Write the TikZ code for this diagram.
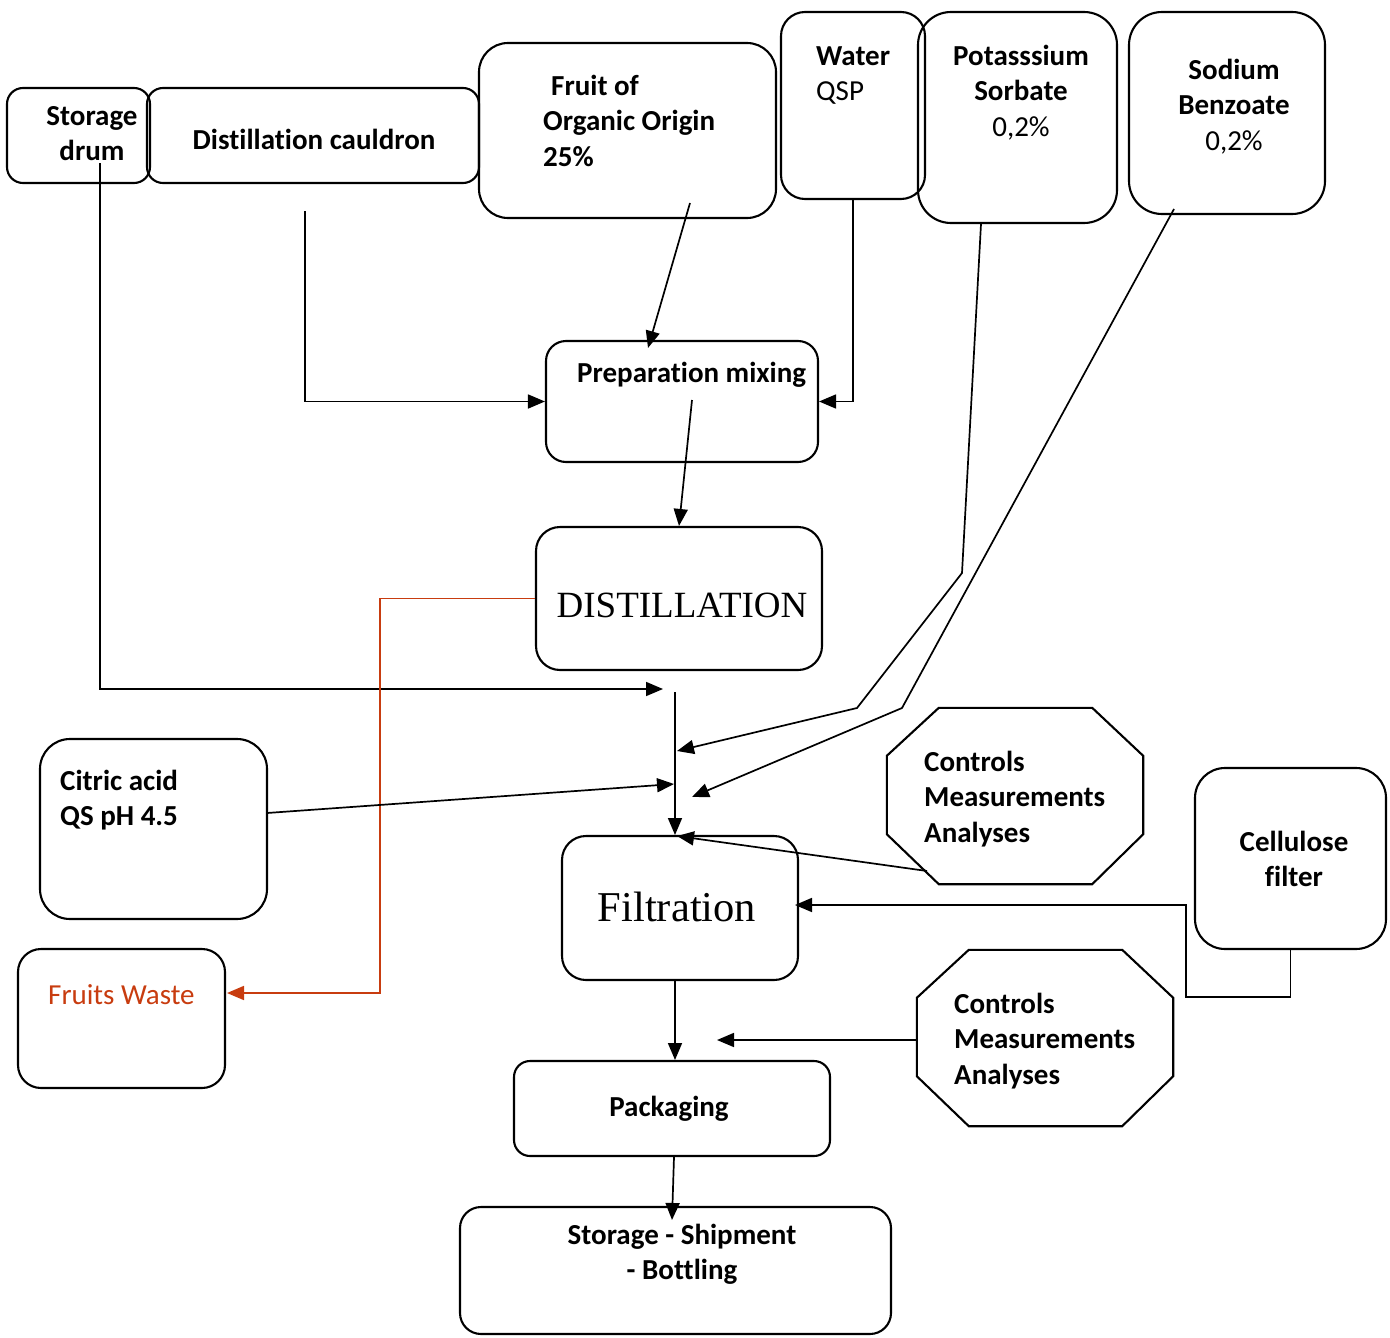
\documentclass[tikz,border=0pt]{standalone}
\usepackage{fontspec}
\setmainfont{Carlito}[Ligatures={NoCommon},Contextuals={NoAlternate}]
\newfontfamily\timesf{Liberation Serif}
\usetikzlibrary{arrows.meta,calc}
\definecolor{wastered}{RGB}{200,60,15}
\tikzset{
  box/.style={draw, line width=2.1, inner sep=0, rectangle},
  arr/.style={line width=1.7, -{Triangle[length=17pt,width=14pt]}},
  txt/.style={inner sep=0, font=\fontsize{29}{35.5}\selectfont\bfseries},
  rtxt/.style={inner sep=0, font=\fontsize{29}{35.5}\selectfont},
}
\begin{document}
\begin{tikzpicture}[x=1pt,y=-1pt]
\useasboundingbox (0,0) rectangle (1390,1338);
% boxes
\node[box, minimum width=143, minimum height=95, rounded corners=16] (drum) at (78.5,135.5) {};
\node[box, minimum width=332, minimum height=95, rounded corners=16] (cauldron) at (313,135.5) {};
\node[box, minimum width=297, minimum height=175, rounded corners=29] (fruit) at (627.5,130.5) {};
\node[box, minimum width=144, minimum height=187, rounded corners=24] (water) at (853,105.5) {};
\node[box, minimum width=199, minimum height=211, rounded corners=33] (potassium) at (1017.5,117.5) {};
\node[box, minimum width=196, minimum height=202, rounded corners=33] (sodium) at (1227,113) {};
\node[box, minimum width=272, minimum height=121, rounded corners=20] (prep) at (682,401.5) {};
\node[box, minimum width=286, minimum height=143, rounded corners=24] (distil) at (679,598.5) {};
\node[box, minimum width=227, minimum height=180, rounded corners=30] (citric) at (153.5,829) {};
\node[box, minimum width=207, minimum height=139, rounded corners=23] (waste) at (121.5,1018.5) {};
\node[box, minimum width=236, minimum height=144, rounded corners=24] (filt) at (680,908) {};
\node[box, minimum width=191, minimum height=181, rounded corners=30] (cell) at (1290.5,858.5) {};
\node[box, minimum width=316, minimum height=95, rounded corners=16] (pack) at (672,1108.5) {};
\node[box, minimum width=431, minimum height=127, rounded corners=21] (ship) at (675.5,1270.5) {};
% octagons
\node[inner sep=0, minimum width=256, minimum height=176] (ctrl1) at (1015,796) {};
\node[inner sep=0, minimum width=256, minimum height=176] (ctrl2) at (1045,1038) {};
\foreach \o in {ctrl1,ctrl2}{
  \draw[line width=2.1]
    ($(\o.north west)+(52,0)$) -- ($(\o.north east)+(-51,0)$) -- ($(\o.north east)+(0,48)$)
    -- ($(\o.south east)+(0,-50)$) -- ($(\o.south east)+(-51,0)$) -- ($(\o.south west)+(52,0)$)
    -- ($(\o.south west)+(0,-50)$) -- ($(\o.north west)+(0,48)$) -- cycle;
}
% texts
\node[txt, anchor=north, align=center] (tdrum) at (92,100) {\strut Storage\\\strut drum};
\node[txt, anchor=north] (tcauldron) at (314,124) {\strut Distillation cauldron};
\node[txt, anchor=north west, align=left] (tfruit) at (543,70) {\strut\hspace{8pt}Fruit of\\\strut Organic Origin\\\strut 25\%};
\node[rtxt, anchor=north west, align=left] (twater) at (816,40) {\strut\textbf{Water}\\\strut QSP};
\node[rtxt, anchor=north, align=center] (tpot) at (1021,40) {\strut\textbf{Potasssium}\\\strut\textbf{Sorbate}\\\strut 0,2\%};
\node[rtxt, anchor=north, align=center] (tsod) at (1234,54) {\strut\textbf{Sodium}\\\strut\textbf{Benzoate}\\\strut 0,2\%};
\node[txt, anchor=north west] (tprep) at (577,357) {\strut Preparation mixing};
\node[inner sep=0, anchor=base, font=\timesf\fontsize{37}{44}\selectfont] (tdistil) at (682,617) {DISTILLATION};
\node[txt, anchor=north west, align=left] (tcitric) at (60,765) {\strut Citric acid\\\strut QS pH 4.5};
\node[rtxt, anchor=base west, text=wastered] (twaste) at (48,1004) {Fruits Waste};
\node[inner sep=0, anchor=base, font=\timesf\fontsize{42.5}{50}\selectfont] (tfilt) at (677,921) {Filtration};
\node[txt, anchor=north west, align=left] (tctrl1) at (924,746) {\strut Controls\\\strut Measurements\\\strut Analyses};
\node[txt, anchor=north, align=center] (tcell) at (1294,826) {\strut Cellulose\\\strut filter};
\node[txt, anchor=north west, align=left] (tctrl2) at (954,988) {\strut Controls\\\strut Measurements\\\strut Analyses};
\node[txt, anchor=base] (tpack) at (669,1116) {Packaging};
\node[txt, anchor=north, align=center] (tship) at (682,1219) {\strut Storage - Shipment\\\strut - Bottling};
% connector coordinates
\coordinate (drumout) at (100,163);
\coordinate (j1) at (663,689);
\coordinate (caulout) at (305,211);
\coordinate (fruitout) at (690,203);
\coordinate (prepin) at (648,348);
\coordinate (prepout) at (692,400);
\coordinate (jtop) at (675,692);
\coordinate (filtin) at (675,835);
\coordinate (potout) at (981,224);
\coordinate (potb1) at (962,573);
\coordinate (potb2) at (857,708);
\coordinate (potin) at (677,751);
\coordinate (sodout) at (1174,209);
\coordinate (sodb) at (902,708);
\coordinate (sodin) at (692,797);
\coordinate (citout) at (267,813);
\coordinate (citin) at (674,784);
\coordinate (c1out) at (927,871);
\coordinate (c1in) at (677,836);
\coordinate (cellb1) at (1290.5,997);
\coordinate (cellb2) at (1186,905);
\coordinate (cellin) at (795,905);
\coordinate (filtout) at (675,980);
\coordinate (packin) at (675,1060);
\coordinate (c2in) at (717,1040);
\coordinate (wastein) at (227,993);
\coordinate (packout) at (674,1157);
\coordinate (shipin) at (672,1220);
% connectors
\draw[arr] (drumout) |- (j1);
\draw[arr] (caulout) |- (prep.west);
\draw[arr] (fruitout) -- (prepin);
\draw[arr] (water.south) |- (prep.east);
\draw[arr] (prepout) -- (distil.north);
\draw[arr, draw=wastered] (distil.west) -- ++(-155,0) |- (wastein);
\draw[arr] (jtop) -- (filtin);
\draw[arr] (potout) -- (potb1) -- (potb2) -- (potin);
\draw[arr] (sodout) -- (sodb) -- (sodin);
\draw[arr] (citout) -- (citin);
\draw[arr] (c1out) -- (c1in);
\draw[arr] (cell.south) -- (cellb1) -| (cellb2) -- (cellin);
\draw[arr] (filtout) -- (packin);
\draw[arr] (ctrl2.west |- c2in) -- (c2in);
\draw[arr] (packout) -- (shipin);
\end{tikzpicture}
\end{document}
